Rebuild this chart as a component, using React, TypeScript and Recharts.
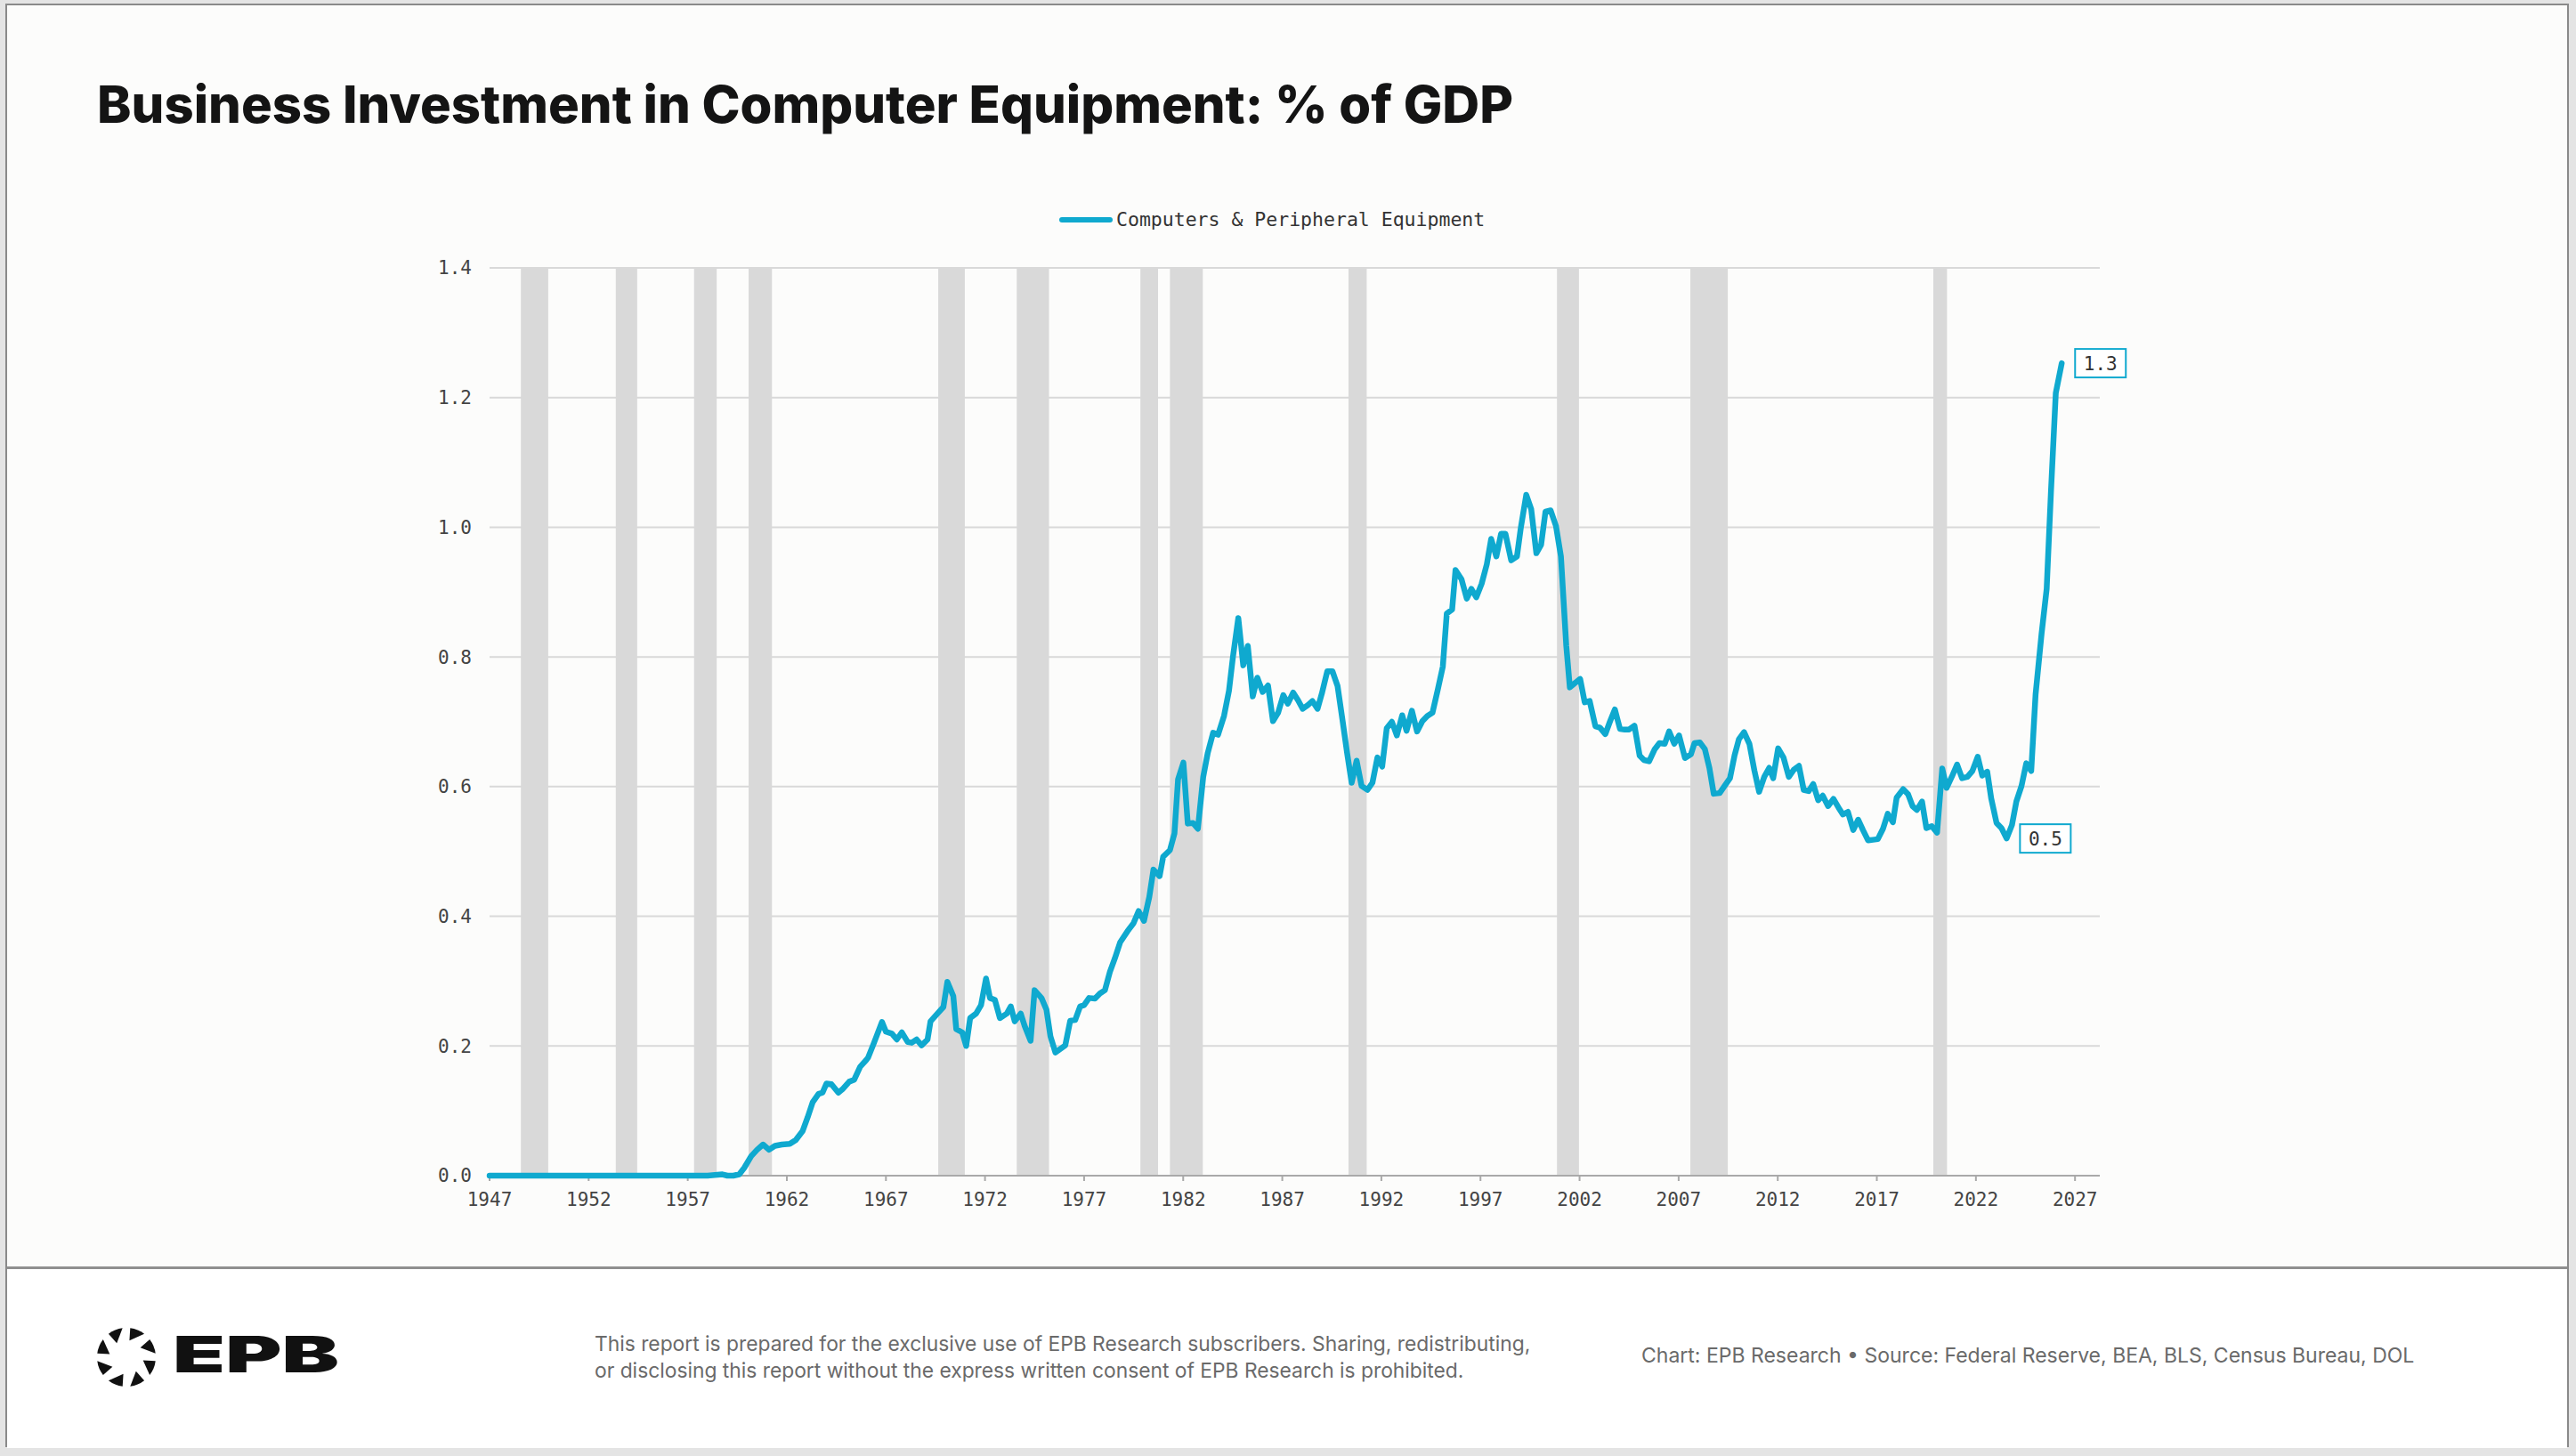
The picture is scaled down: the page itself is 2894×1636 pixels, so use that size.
import {
  LineChart,
  Line,
  XAxis,
  YAxis,
  CartesianGrid,
  ReferenceArea,
  ReferenceDot,
} from "recharts";

const CYAN = "#0fa9cf";
const MONO = "'DejaVu Sans Mono', monospace";
const SANS = "Inter, 'Noto Sans', sans-serif";

const seriesName = "Computers & Peripheral Equipment";

const dates = [
  1947, 1948, 1949, 1950, 1951, 1952, 1953, 1954, 1955, 1956, 1957, 1958, 1958.75, 1959, 1959.3, 1959.6, 1959.85,
  1960.2, 1960.5, 1960.8, 1961.1, 1961.4, 1961.75, 1962.15, 1962.45, 1962.8,
  1963.05, 1963.3, 1963.6, 1963.8, 1964.0, 1964.25, 1964.6, 1964.8,
  1965.15, 1965.4, 1965.7, 1966.0, 1966.1, 1966.4, 1966.8,
  1967.0, 1967.3, 1967.55, 1967.8, 1968.1, 1968.3, 1968.55, 1968.8,
  1969.1, 1969.25, 1969.6, 1969.9, 1970.1, 1970.4, 1970.55, 1970.85,
  1971.05, 1971.25, 1971.55, 1971.8, 1972.05, 1972.25, 1972.5, 1972.75,
  1973.1, 1973.3, 1973.5, 1973.8, 1974.0, 1974.3, 1974.5, 1974.85,
  1975.1, 1975.3, 1975.55, 1976.05, 1976.3, 1976.55, 1976.8,
  1977.0, 1977.25, 1977.55, 1977.8, 1978.05, 1978.3, 1978.55, 1978.82,
  1979.19, 1979.49, 1979.75, 1980.02, 1980.29, 1980.5, 1980.81, 1980.99,
  1981.33, 1981.56, 1981.74, 1982.01, 1982.23, 1982.49, 1982.74,
  1983.01, 1983.24, 1983.51, 1983.76, 1984.06, 1984.31, 1984.51, 1984.78,
  1985.03, 1985.26, 1985.51, 1985.74, 1986.01, 1986.28, 1986.53, 1986.79,
  1987.05, 1987.28, 1987.55, 1987.8, 1988.03, 1988.3, 1988.52, 1988.78,
  1989.0, 1989.27, 1989.53, 1989.79, 1990.05, 1990.27, 1990.5, 1990.75,
  1991.0, 1991.3, 1991.55, 1991.8, 1992.04, 1992.27, 1992.53, 1992.78,
  1993.05, 1993.27, 1993.54, 1993.8, 1994.07, 1994.32, 1994.58, 1994.85,
  1995.1, 1995.3, 1995.57, 1995.74, 1996.04, 1996.31, 1996.54, 1996.79,
  1997.06, 1997.32, 1997.54, 1997.8, 1998.04, 1998.26, 1998.55, 1998.84,
  1999.04, 1999.31, 1999.56, 1999.82, 2000.06, 2000.28, 2000.54, 2000.81,
  2001.06, 2001.33, 2001.51, 2001.78, 2002.03, 2002.26, 2002.51, 2002.8,
  2003.03, 2003.3, 2003.53, 2003.78, 2004.04, 2004.28, 2004.5, 2004.77,
  2005.03, 2005.25, 2005.51, 2005.78, 2006.03, 2006.3, 2006.52, 2006.78,
  2007.02, 2007.32, 2007.62, 2007.8, 2008.07, 2008.32, 2008.55, 2008.77,
  2009.07, 2009.34, 2009.59, 2009.82, 2010.04, 2010.3, 2010.57, 2010.82,
  2011.06, 2011.32, 2011.57, 2011.77, 2012.02, 2012.29, 2012.56, 2012.81,
  2013.07, 2013.31, 2013.56, 2013.79, 2014.04, 2014.27, 2014.54, 2014.81,
  2015.06, 2015.29, 2015.54, 2015.81, 2016.06, 2016.3, 2016.56, 2016.8,
  2017.05, 2017.31, 2017.55, 2017.81, 2018.0, 2018.33, 2018.58, 2018.8,
  2019.02, 2019.28, 2019.5, 2019.77, 2020.04, 2020.3, 2020.52, 2020.78,
  2021.05, 2021.3, 2021.57, 2021.82, 2022.09, 2022.32, 2022.57, 2022.77,
  2023.04, 2023.29, 2023.55, 2023.82, 2024.04, 2024.3, 2024.54, 2024.79,
  2025.01, 2025.31, 2025.57, 2025.79, 2026.03, 2026.33,
];

// Investment in computers & peripherals, % of GDP
const values = [
  0, 0, 0, 0, 0, 0, 0, 0, 0, 0, 0, 0, 0.002, 0, 0, 0.002, 0.012,
  0.03, 0.04, 0.048, 0.04, 0.046, 0.048, 0.049, 0.055, 0.069,
  0.09, 0.113, 0.126, 0.128, 0.142, 0.141, 0.128, 0.133,
  0.145, 0.148, 0.168, 0.178, 0.182, 0.205, 0.237,
  0.222, 0.219, 0.21, 0.221, 0.206, 0.205, 0.21, 0.201,
  0.21, 0.238, 0.25, 0.26, 0.299, 0.277, 0.226, 0.221,
  0.2, 0.243, 0.25, 0.263, 0.304, 0.274, 0.271, 0.243,
  0.25, 0.261, 0.238, 0.25, 0.231, 0.208, 0.286, 0.274,
  0.256, 0.215, 0.19, 0.201, 0.239, 0.24, 0.261,
  0.263, 0.274, 0.273, 0.281, 0.286, 0.314, 0.335, 0.36,
  0.377, 0.389, 0.408, 0.393, 0.43, 0.472, 0.462, 0.492,
  0.502, 0.528, 0.611, 0.637, 0.543, 0.544, 0.535,
  0.615, 0.652, 0.683, 0.68, 0.709, 0.748, 0.8, 0.86,
  0.787, 0.817, 0.739, 0.768, 0.746, 0.756, 0.701, 0.714,
  0.741, 0.728, 0.745, 0.733, 0.72, 0.726, 0.732, 0.72,
  0.744, 0.778, 0.778, 0.755, 0.7, 0.652, 0.606, 0.64,
  0.601, 0.595, 0.606, 0.645, 0.631, 0.69, 0.7, 0.679,
  0.71, 0.686, 0.717, 0.685, 0.701, 0.709, 0.714, 0.75,
  0.785, 0.867, 0.873, 0.934, 0.92, 0.89, 0.905, 0.892,
  0.913, 0.943, 0.982, 0.955, 0.99, 0.99, 0.949, 0.955,
  1.0, 1.05, 1.028, 0.96, 0.973, 1.024, 1.026, 1.002,
  0.955, 0.817, 0.753, 0.76, 0.766, 0.73, 0.732, 0.693,
  0.691, 0.681, 0.7, 0.719, 0.689, 0.688, 0.688, 0.694,
  0.648, 0.641, 0.639, 0.657, 0.667, 0.666, 0.685, 0.666,
  0.679, 0.644, 0.65, 0.667, 0.668, 0.658, 0.629, 0.589,
  0.59, 0.602, 0.613, 0.648, 0.673, 0.684, 0.666, 0.625,
  0.592, 0.615, 0.629, 0.613, 0.659, 0.645, 0.615, 0.626,
  0.632, 0.595, 0.593, 0.604, 0.579, 0.586, 0.57, 0.581,
  0.568, 0.557, 0.561, 0.533, 0.549, 0.533, 0.517, 0.518,
  0.519, 0.535, 0.558, 0.545, 0.583, 0.596, 0.588, 0.57,
  0.564, 0.577, 0.536, 0.539, 0.529, 0.628, 0.598, 0.615,
  0.634, 0.613, 0.615, 0.624, 0.646, 0.617, 0.623, 0.582,
  0.544, 0.536, 0.52, 0.541, 0.577, 0.601, 0.636, 0.624,
  0.742, 0.835, 0.905, 1.057, 1.207, 1.253,
];

// Shaded recessions [start, end]
const recessions = [
  [1948.58, 1949.96],
  [1953.37, 1954.45],
  [1957.32, 1958.46],
  [1960.07, 1961.25],
  [1969.64, 1970.98],
  [1973.6, 1975.23],
  [1979.84, 1980.73],
  [1981.33, 1982.99],
  [1990.34, 1991.26],
  [2000.86, 2001.97],
  [2007.59, 2009.48],
  [2019.85, 2020.54],
];

const xTicks = [1947, 1952, 1957, 1962, 1967, 1972, 1977, 1982, 1987, 1992, 1997, 2002, 2007, 2012, 2017, 2022, 2027];
const yTicks = [0, 0.2, 0.4, 0.6, 0.8, 1.0, 1.2, 1.4];

const data = dates.slice(0, values.length).map((year, i) => ({ year, value: values[i] }));

// callouts: latest value and the recent low
const last = data[data.length - 1];
const recentLow = data
  .filter((d) => d.year >= 2021)
  .reduce((a, b) => (b.value < a.value ? b : a));

function callout(text: string) {
  return (props: any) => {
    const { cx, cy } = props;
    if (cx == null || cy == null) return null;
    const x = cx + 15;
    return (
      <g>
        <rect x={x} y={cy - 16} width={57} height={32} fill="#ffffff" stroke={CYAN} strokeWidth={2} />
        <text
          x={x + 28.5}
          y={cy}
          dy="0.36em"
          textAnchor="middle"
          fill="#333"
          fontSize={21}
          fontFamily={MONO}
        >
          {text}
        </text>
      </g>
    );
  };
}

function LogoMark() {
  const cx = 33;
  const cy = 33;
  const R = 33;
  const r = 19;
  const pieces = [];
  for (let k = 0; k < 8; k++) {
    const mid = (k * 45 + 22.5 - 90) * (Math.PI / 180);
    const a1 = mid - (15 * Math.PI) / 180;
    const a2 = mid + (15 * Math.PI) / 180;
    const p1 = [cx + R * Math.cos(a1), cy + R * Math.sin(a1)];
    const p2 = [cx + R * Math.cos(a2), cy + R * Math.sin(a2)];
    const p3 = [cx + r * Math.cos(a1 + 0.05), cy + r * Math.sin(a1 + 0.05)];
    pieces.push(
      <path
        key={k}
        d={`M${p1[0]},${p1[1]} A${R},${R} 0 0 1 ${p2[0]},${p2[1]} L${p3[0]},${p3[1]} Z`}
        fill="#111"
      />
    );
  }
  return (
    <svg width={66} height={66} style={{ position: "absolute", left: 109, top: 1492 }}>
      {pieces}
    </svg>
  );
}

export default function App() {
  return (
    <div
      style={{
        position: "absolute",
        left: 0,
        top: 0,
        width: 2894,
        height: 1636,
        background: "#e4e4e4",
        overflow: "hidden",
      }}
    >
      {/* card */}
      <div
        style={{
          position: "absolute",
          left: 6,
          top: 4,
          width: 2880,
          height: 1622,
          boxSizing: "border-box",
          border: "2px solid #8a8a8a",
          background: "#fcfcfb",
        }}
      />
      {/* footer */}
      <div
        style={{
          position: "absolute",
          left: 8,
          top: 1423,
          width: 2876,
          height: 201,
          borderTop: "3px solid #8f8f8f",
          background: "#ffffff",
        }}
      />

      <div
        style={{
          position: "absolute",
          left: 109,
          top: 88,
          fontFamily: SANS,
          fontWeight: 800,
          fontSize: 58,
          lineHeight: "58px",
          color: "#141414",
          whiteSpace: "nowrap",
        }}
      >
        Business Investment in Computer Equipment: % of GDP
      </div>

      {/* legend */}
      <div
        style={{
          position: "absolute",
          left: 1190,
          top: 244,
          width: 60,
          height: 6,
          borderRadius: 3,
          background: CYAN,
        }}
      />
      <div
        style={{
          position: "absolute",
          left: 1254,
          top: 234,
          fontFamily: MONO,
          fontSize: 21.5,
          lineHeight: "26px",
          color: "#333",
          whiteSpace: "nowrap",
        }}
      >
        {seriesName}
      </div>

      <div style={{ position: "absolute", left: 0, top: 0 }}>
        <LineChart
          width={2894}
          height={1424}
          data={data}
          margin={{ top: 301, right: 535, bottom: 43, left: 470 }}
        >
          <CartesianGrid vertical={false} stroke="#d9d9d9" strokeWidth={2} />
          {recessions.map(([s, e]) => (
            <ReferenceArea
              key={s}
              x1={s}
              x2={e}
              y1={0}
              y2={1.4}
              fill="#d9d9d9"
              fillOpacity={1}
              stroke="none"
            />
          ))}
          <XAxis
            dataKey="year"
            type="number"
            domain={[1947, 2028.25]}
            ticks={xTicks}
            height={60}
            axisLine={{ stroke: "#a9a9a9", strokeWidth: 2 }}
            tickLine={{ stroke: "#a9a9a9", strokeWidth: 2 }}
            tickSize={6}
            tickMargin={13}
            tick={{ fill: "#444", fontSize: 21, fontFamily: MONO }}
            interval={0}
          />
          <YAxis
            type="number"
            domain={[0, 1.4]}
            ticks={yTicks}
            width={80}
            axisLine={false}
            tickLine={false}
            tickSize={0}
            tickMargin={20}
            tickFormatter={(v: number) => v.toFixed(1)}
            tick={{ fill: "#444", fontSize: 21, fontFamily: MONO }}
          />
          <Line
            type="linear"
            dataKey="value"
            name={seriesName}
            stroke={CYAN}
            strokeWidth={6.5}
            strokeLinejoin="round"
            strokeLinecap="round"
            dot={false}
            activeDot={false}
            isAnimationActive={false}
            zIndex={600}
          />
          <ReferenceDot x={last.year} y={last.value} r={0} shape={callout(last.value.toFixed(1))} />
          <ReferenceDot
            x={recentLow.year}
            y={recentLow.value}
            r={0}
            shape={callout(recentLow.value.toFixed(1))}
          />
        </LineChart>
      </div>

      {/* footer content */}
      <LogoMark />
      <svg width={200} height={80} style={{ position: "absolute", left: 192, top: 1482 }}>
        <text
          x={2}
          y={60}
          fontFamily={SANS}
          fontWeight={900}
          fontSize={56}
          fill="#111"
          textLength={187}
          lengthAdjust="spacingAndGlyphs"
        >
          EPB
        </text>
      </svg>
      <div
        style={{
          position: "absolute",
          left: 668,
          top: 1495,
          fontFamily: SANS,
          fontSize: 22.8,
          lineHeight: "30px",
          color: "#6a6a6a",
          whiteSpace: "nowrap",
        }}
      >
        This report is prepared for the exclusive use of EPB Research subscribers. Sharing, redistributing,
        <br />
        or disclosing this report without the express written consent of EPB Research is prohibited.
      </div>
      <div
        style={{
          position: "absolute",
          left: 1844,
          top: 1508,
          fontFamily: SANS,
          fontSize: 23,
          lineHeight: "30px",
          color: "#6a6a6a",
          whiteSpace: "nowrap",
        }}
      >
        Chart: EPB Research {"\u2022"} Source: Federal Reserve, BEA, BLS, Census Bureau, DOL
      </div>
    </div>
  );
}
